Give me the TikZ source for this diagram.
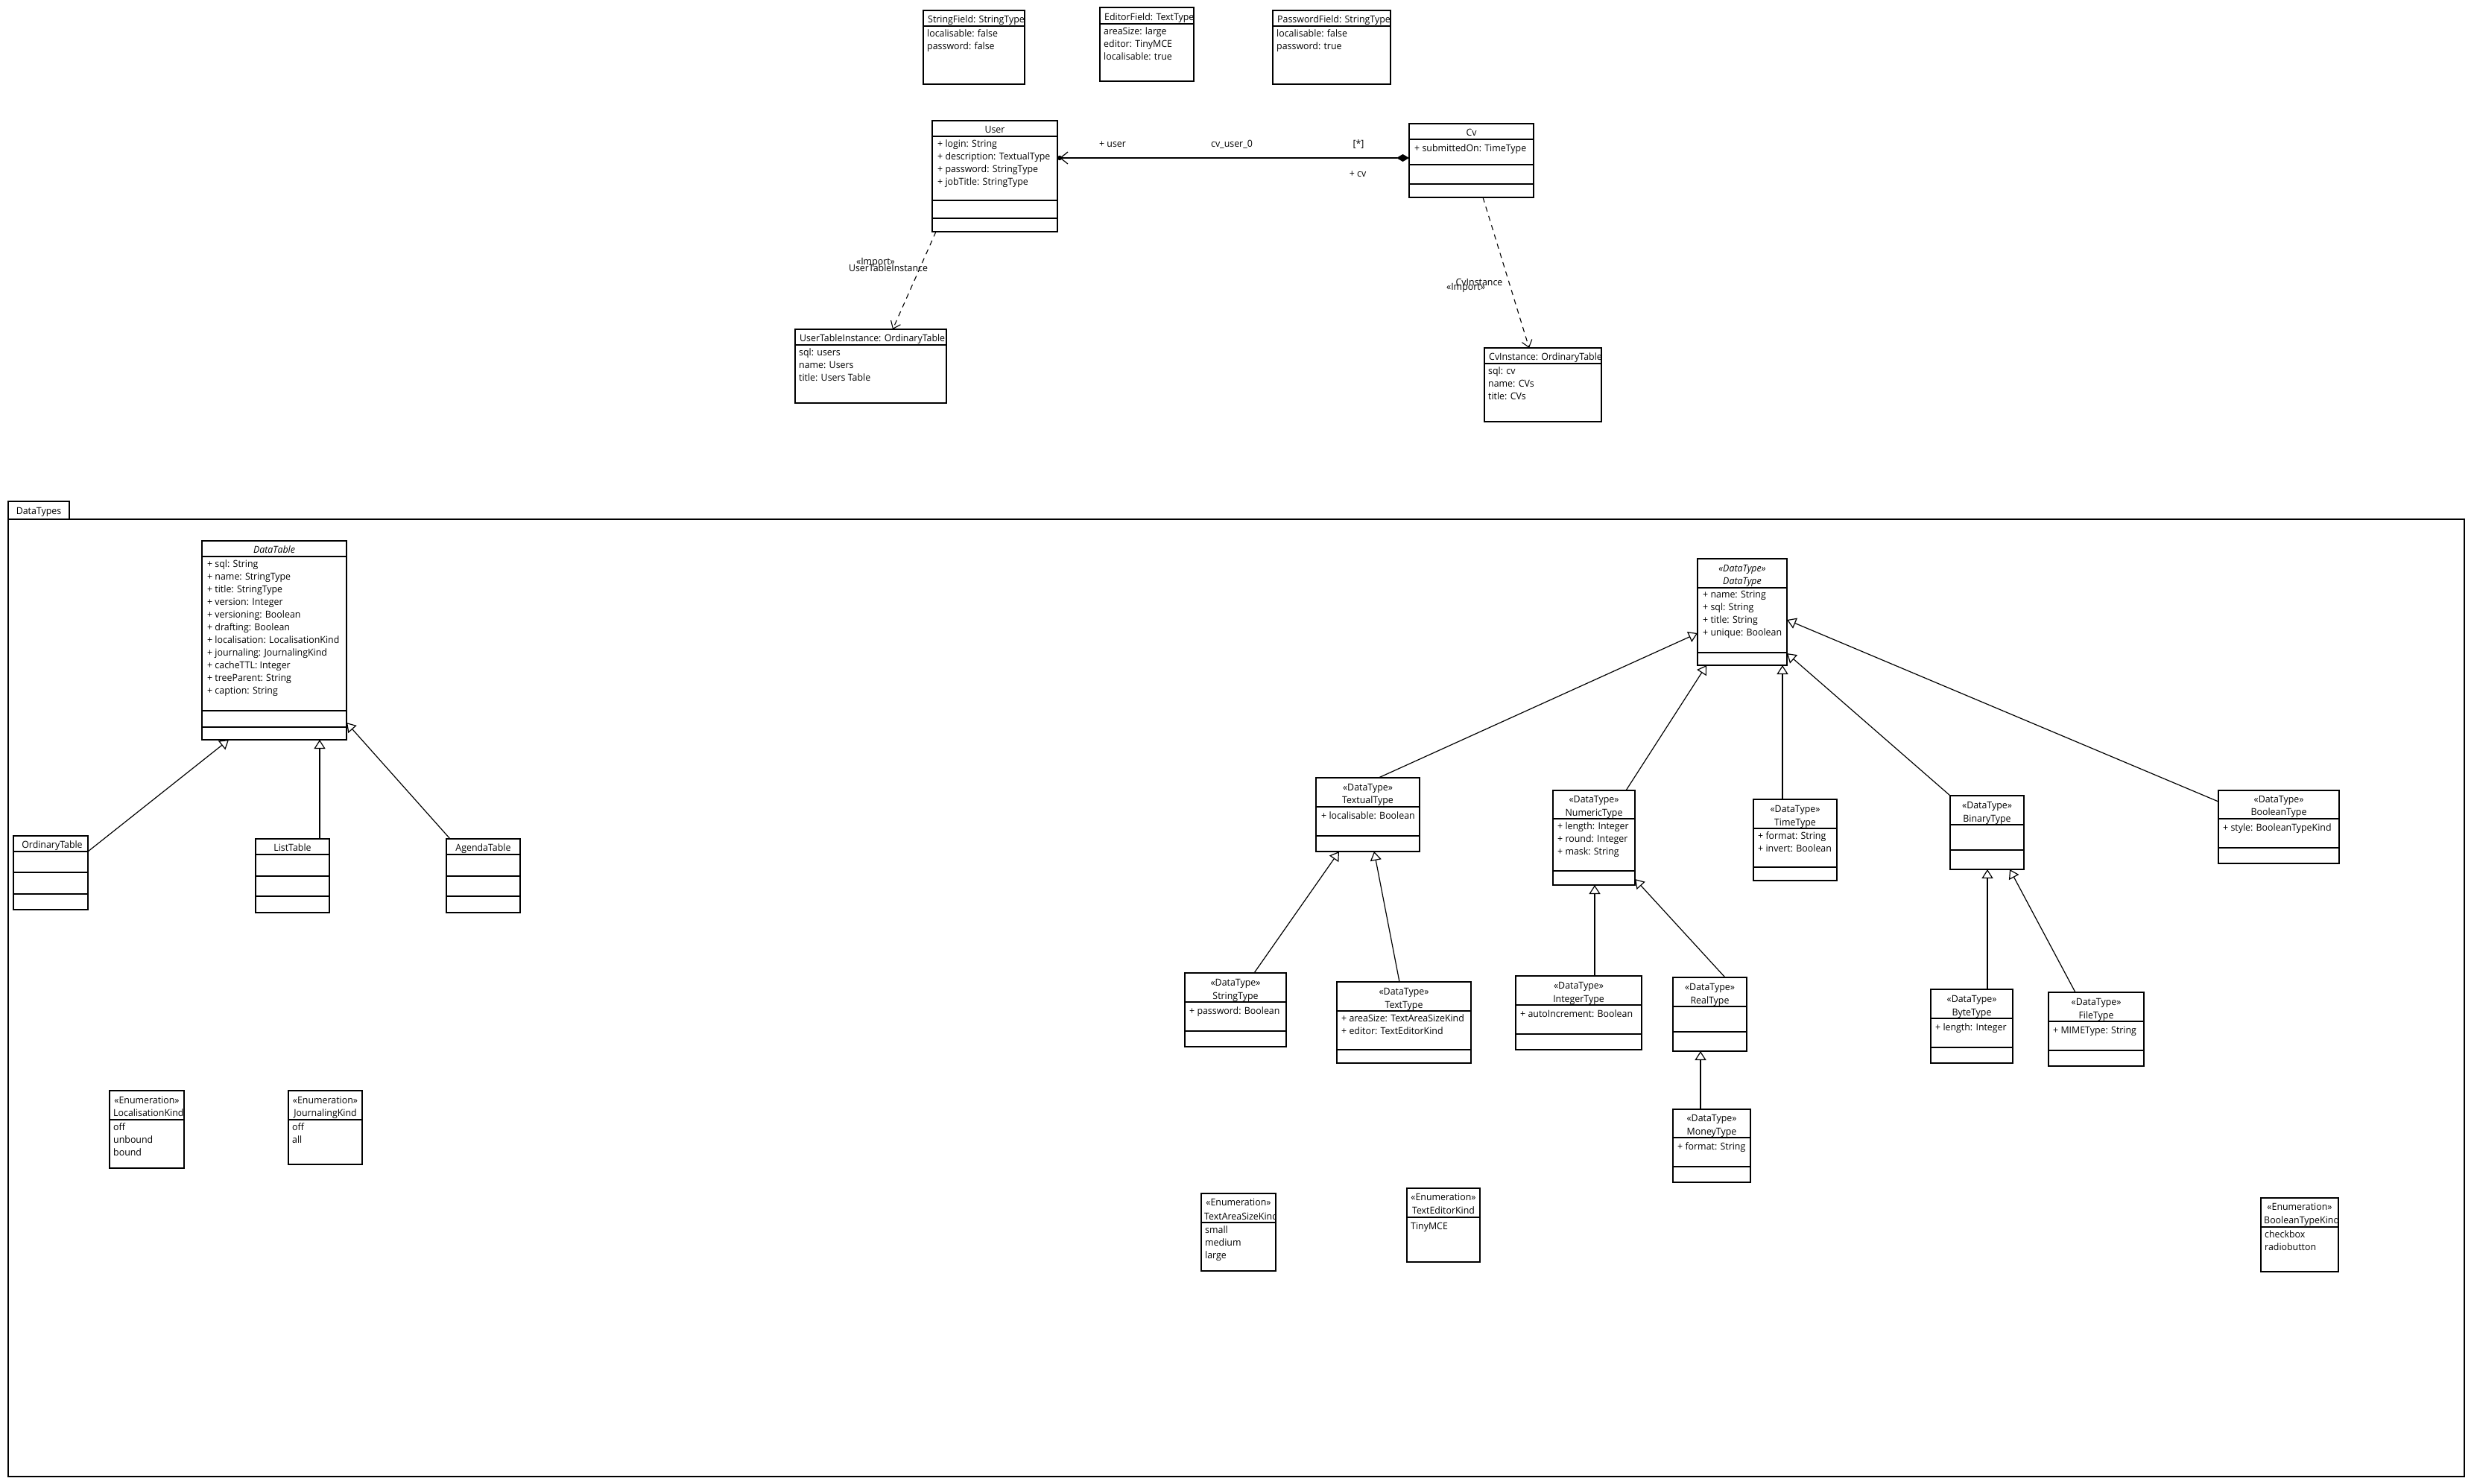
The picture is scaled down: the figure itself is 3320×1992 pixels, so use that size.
\documentclass[tikz,border=0pt]{standalone}
\usepackage{fontspec}
\setmainfont[FakeStretch=0.96]{Open Sans}
\usetikzlibrary{arrows.meta}

\newcommand{\umlfont}{\fontsize{12.9}{17}\selectfont}

\tikzset{
classbox/.style={
	rectangle,
	anchor=north west,
	draw=black,
	line width=1.2pt,
	fill=white,
	inner sep=0pt,
	outer sep=0pt
},
classline/.style={
	draw=black,
	line width=1.2pt
},
title/.style={
	inner sep=0pt,
	text height=9.3pt,
	text depth=0pt,
	yshift=-1pt,
	font=\umlfont
},
members/.style={
	anchor=north west,
	align=left,
	inner xsep=0pt,
	inner ysep=4pt,
	font=\umlfont,
	execute at begin node=\strut
},
gen/.style={
	-{Triangle[open, length=12pt, width=15pt]},
	line width=1.2pt,
	draw=black
},
dep/.style={
	-{Straight Barb[length=9pt, width=14pt]},
	line width=1.1pt,
	dash pattern=on 7pt off 6pt,
	draw=black
},
assoc/.style={
	{Straight Barb[length=10pt, width=16pt]}-{Diamond[length=17pt, width=10pt]},
	line width=1.2pt,
	draw=black
},
lbl/.style={
	inner sep=0pt,
	text height=9.3pt,
	text depth=0pt,
	font=\umlfont
}
}

% box with its compartment lines
\newcommand{\classbox}[6]{%
	\node[classbox, minimum width={(#4-#2)*1pt}, minimum height={(#5-#3)*1pt}] (#1) at (#2,#3) {};
	\foreach \sepy in {#6} {\draw[classline] (#1.west |- 0,\sepy) -- (#1.east |- 0,\sepy);}
}
% title that is cut at the box border
\newcommand{\cliptitle}[4]{%
	\begin{scope}
		\clip (#1.north west) rectangle (#1.south east);
		\node[title, anchor=west] (#1-name) at (#2,#3) {#4};
	\end{scope}
}

\begin{document}
\begin{tikzpicture}[x=1pt, y=-1pt]

\useasboundingbox (0,0) rectangle (3320,1992);

% package frame
\node[classbox, minimum width=3296pt, minimum height=1285pt] (pkg) at (11,697) {};
\node[classbox, minimum width=82pt, minimum height=24pt] (pkgtab) at (11,673) {};
\node[title] (pkgtab-name) at (pkgtab.center) {DataTypes};

% instances
\classbox{strfield}{1239}{14}{1375}{113}{35}
\cliptitle{strfield}{1245}{25}{StringField: StringType}
\node[members] (strfield-vals) at (1244,35) {localisable: false\\password: false};

\classbox{edfield}{1476}{10}{1602}{109}{32}
\cliptitle{edfield}{1482}{22}{EditorField: TextType}
\node[members] (edfield-vals) at (1481,32) {areaSize: large\\editor: TinyMCE\\localisable: true};

\classbox{pwfield}{1708}{14}{1866}{113}{35}
\cliptitle{pwfield}{1714}{25}{PasswordField: StringType}
\node[members] (pwfield-vals) at (1713,35) {localisable: false\\password: true};

\classbox{user}{1251}{162}{1419}{311}{183,269,293}
\node[title] (user-name) at (user.north |- 0,173) {User};
\node[members] (user-attr) at (1258,183) {+ login: String\\+ description: TextualType\\+ password: StringType\\+ jobTitle: StringType};

\classbox{cv}{1891}{166}{2058}{265}{187,221,247}
\node[title] (cv-name) at (cv.north |- 0,177) {Cv};
\node[members] (cv-attr) at (1898,187) {+ submittedOn: TimeType};

\classbox{uti}{1067}{442}{1270}{541}{463}
\cliptitle{uti}{1073}{453}{UserTableInstance: OrdinaryTable}
\node[members] (uti-vals) at (1072,463) {sql: users\\name: Users\\title: Users Table};

\classbox{cvi}{1992}{467}{2149}{566}{488}
\cliptitle{cvi}{1998}{478}{CvInstance: OrdinaryTable}
\node[members] (cvi-vals) at (1997,488) {sql: cv\\name: CVs\\title: CVs};

% tables
\classbox{datatable}{271}{726}{465}{993}{747,954,976}
\node[title] (datatable-name) at (datatable.north |- 0,737) {\textit{DataTable}};
\node[members] (datatable-attr) at (278,747) {+ sql: String\\+ name: StringType\\+ title: StringType\\+ version: Integer\\+ versioning: Boolean\\+ drafting: Boolean\\+ localisation: LocalisationKind\\+ journaling: JournalingKind\\+ cacheTTL: Integer\\+ treeParent: String\\+ caption: String};

\classbox{ordinary}{18}{1122}{118}{1221}{1143,1171,1200}
\node[title] (ordinary-name) at (70,1133) {OrdinaryTable};

\classbox{listtable}{343}{1126}{442}{1225}{1147,1176,1203}
\node[title] (listtable-name) at (listtable.north |- 0,1137) {ListTable};

\classbox{agenda}{599}{1126}{698}{1225}{1147,1176,1203}
\node[title] (agenda-name) at (agenda.north |- 0,1137) {AgendaTable};

% enumerations
\classbox{lockind}{147}{1464}{247}{1568}{1503}
\node[title] (lockind-st) at (lockind.north |- 0,1476) {«Enumeration»};
\cliptitle{lockind}{152}{1493}{LocalisationKind}
\node[members] (lockind-lit) at (152,1503) {off\\unbound\\bound};

\classbox{jourkind}{387}{1464}{486}{1563}{1503}
\node[title] (jourkind-st) at (jourkind.north |- 0,1476) {«Enumeration»};
\node[title] (jourkind-name) at (jourkind.north |- 0,1493) {JournalingKind};
\node[members] (jourkind-lit) at (392,1503) {off\\all};

\classbox{sizekind}{1612}{1602}{1712}{1706}{1641}
\node[title] (sizekind-st) at (sizekind.north |- 0,1613) {«Enumeration»};
\cliptitle{sizekind}{1616}{1632}{TextAreaSizeKind}
\node[members] (sizekind-lit) at (1617,1641) {small\\medium\\large};

\classbox{edkind}{1888}{1595}{1986}{1694}{1634}
\node[title] (edkind-st) at (edkind.north |- 0,1606) {«Enumeration»};
\node[title] (edkind-name) at (edkind.north |- 0,1624) {TextEditorKind};
\node[members] (edkind-lit) at (1893,1634) {TinyMCE};

\classbox{boolkind}{3034}{1608}{3138}{1707}{1647}
\node[title] (boolkind-st) at (boolkind.north |- 0,1619) {«Enumeration»};
\cliptitle{boolkind}{3038}{1637}{BooleanTypeKind}
\node[members] (boolkind-lit) at (3039,1647) {checkbox\\radiobutton};

% data types
\classbox{datatype}{2278}{750}{2398}{893}{789,876}
\node[title] (datatype-st) at (datatype.north |- 0,762) {\textit{«DataType»}};
\node[title] (datatype-name) at (datatype.north |- 0,779) {\textit{DataType}};
\node[members] (datatype-attr) at (2285,789) {+ name: String\\+ sql: String\\+ title: String\\+ unique: Boolean};

\classbox{textual}{1766}{1044}{1905}{1143}{1083,1122}
\node[title] (textual-st) at (textual.north |- 0,1056) {«DataType»};
\node[title] (textual-name) at (textual.north |- 0,1073) {TextualType};
\node[members] (textual-attr) at (1773,1083) {+ localisable: Boolean};

\classbox{numeric}{2084}{1061}{2194}{1188}{1099,1169}
\node[title] (numeric-st) at (numeric.north |- 0,1072) {«DataType»};
\node[title] (numeric-name) at (numeric.north |- 0,1090) {NumericType};
\node[members] (numeric-attr) at (2090,1099) {+ length: Integer\\+ round: Integer\\+ mask: String};

\classbox{timetype}{2353}{1073}{2465}{1182}{1112,1164}
\node[title] (timetype-st) at (timetype.north |- 0,1085) {«DataType»};
\node[title] (timetype-name) at (timetype.north |- 0,1103) {TimeType};
\node[members] (timetype-attr) at (2359,1112) {+ format: String\\+ invert: Boolean};

\classbox{binary}{2617}{1068}{2716}{1167}{1107,1141}
\node[title] (binary-st) at (binary.north |- 0,1080) {«DataType»};
\node[title] (binary-name) at (binary.north |- 0,1098) {BinaryType};

\classbox{boolean}{2977}{1061}{3139}{1159}{1099,1138}
\node[title] (boolean-st) at (boolean.north |- 0,1072) {«DataType»};
\node[title] (boolean-name) at (boolean.north |- 0,1089) {BooleanType};
\node[members] (boolean-attr) at (2983,1099) {+ style: BooleanTypeKind};

\classbox{stringtype}{1590}{1306}{1726}{1405}{1345,1384}
\node[title] (stringtype-st) at (stringtype.north |- 0,1318) {«DataType»};
\node[title] (stringtype-name) at (stringtype.north |- 0,1336) {StringType};
\node[members] (stringtype-attr) at (1596,1345) {+ password: Boolean};

\classbox{texttype}{1794}{1318}{1974}{1427}{1357,1409}
\node[title] (texttype-st) at (texttype.north |- 0,1330) {«DataType»};
\node[title] (texttype-name) at (texttype.north |- 0,1348) {TextType};
\node[members] (texttype-attr) at (1800,1357) {+ areaSize: TextAreaSizeKind\\+ editor: TextEditorKind};

\classbox{integer}{2034}{1310}{2203}{1409}{1349,1388}
\node[title] (integer-st) at (integer.north |- 0,1322) {«DataType»};
\node[title] (integer-name) at (integer.north |- 0,1340) {IntegerType};
\node[members] (integer-attr) at (2040,1349) {+ autoIncrement: Boolean};

\classbox{real}{2245}{1312}{2344}{1411}{1351,1385}
\node[title] (real-st) at (real.north |- 0,1324) {«DataType»};
\node[title] (real-name) at (real.north |- 0,1342) {RealType};

\classbox{money}{2245}{1489}{2349}{1587}{1527,1566}
\node[title] (money-st) at (money.north |- 0,1500) {«DataType»};
\node[title] (money-name) at (money.north |- 0,1518) {MoneyType};
\node[members] (money-attr) at (2251,1527) {+ format: String};

\classbox{bytetype}{2591}{1328}{2701}{1427}{1367,1406}
\node[title] (bytetype-st) at (bytetype.north |- 0,1340) {«DataType»};
\node[title] (bytetype-name) at (bytetype.north |- 0,1358) {ByteType};
\node[members] (bytetype-attr) at (2597,1367) {+ length: Integer};

\classbox{filetype}{2749}{1332}{2877}{1431}{1371,1410}
\node[title] (filetype-st) at (filetype.north |- 0,1344) {«DataType»};
\node[title] (filetype-name) at (filetype.north |- 0,1362) {FileType};
\node[members] (filetype-attr) at (2755,1371) {+ MIMEType: String};

% generalizations
\draw[gen] (ordinary.east |- 0,1143) -- (datatable.south -| 307,0);
\draw[gen] (listtable.north -| 429,0) -- (datatable.south -| 429,0);
\draw[gen] (agenda.north -| 604,0) -- (datatable.east |- 0,970);
\draw[gen] (textual.north -| 1850,0) -- (datatype.west |- 0,850);
\draw[gen] (numeric.north -| 2182,0) -- (datatype.south -| 2290,0);
\draw[gen] (timetype.north -| 2392,0) -- (datatype.south -| 2392,0);
\draw[gen] (binary.north west) -- (datatype.east |- 0,877);
\draw[gen] (boolean.west |- 0,1076) -- (datatype.east |- 0,832);
\draw[gen] (stringtype.north -| 1683,0) -- (textual.south -| 1797,0);
\draw[gen] (texttype.north -| 1878,0) -- (textual.south -| 1844,0);
\draw[gen] (integer.north -| 2140,0) -- (numeric.south -| 2140,0);
\draw[gen] (real.north -| 2315,0) -- (numeric.east |- 0,1180);
\draw[gen] (money.north -| 2282,0) -- (real.south -| 2282,0);
\draw[gen] (bytetype.north -| 2667,0) -- (binary.south -| 2667,0);
\draw[gen] (filetype.north -| 2785,0) -- (binary.south -| 2697,0);

% imports
\draw[dep] (user.south -| 1256,0) -- (uti.north -| 1198,0);
\draw[dep] (cv.south -| 1990,0) -- (cvi.north -| 2052,0);
\node[lbl] (dep1-st) at (1175,351) {«Import»};
\node[lbl] (dep1-name) at (1192,360) {UserTableInstance};
\node[lbl] (dep2-name) at (1985,379) {CvInstance};
\node[lbl] (dep2-st) at (1967,385) {«Import»};

% association cv_user_0
\draw[assoc, shorten <=3pt] (user.east |- 0,212) -- (cv.west |- 0,212);
\fill (user.east |- 0,212) ++(3,0) circle (3.2pt);
\node[lbl] (assoc-user) at (1493,193) {+ user};
\node[lbl] (assoc-name) at (1653,193) {cv\_user\_0};
\node[lbl] (assoc-mult) at (1823,193) {[*]};
\node[lbl] (assoc-cv) at (1822,233) {+ cv};

\end{tikzpicture}
\end{document}
